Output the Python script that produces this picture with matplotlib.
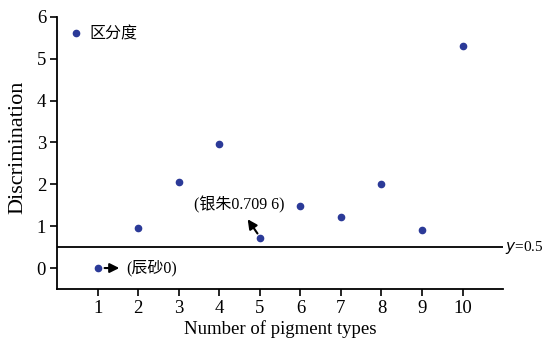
import matplotlib.pyplot as plt
from matplotlib.lines import Line2D

# pigment count vs discrimination
n_types = [1, 2, 3, 4, 5, 6, 7, 8, 9, 10]
discrim = [0.0, 0.96, 2.05, 2.97, 0.7096, 1.49, 1.22, 2.0, 0.91, 5.3]
threshold = 0.5

serif = ['Liberation Serif', 'Noto Sans CJK SC']
dot_color = '#2b3a98'

fig = plt.figure(figsize=(5.45, 3.44), dpi=100)
ax = fig.add_axes([0.105, 0.160, 0.818, 0.791])

ax.plot(n_types, discrim, 'o', color=dot_color, markersize=4.5, linestyle='none')
ax.axhline(threshold, color='black', lw=1.3)

ax.set_xlim(0, 11)
ax.set_ylim(-0.5, 6)
ax.set_xticks(n_types)
ax.set_yticks(range(0, 7))
for s in ['top', 'right']:
    ax.spines[s].set_visible(False)
for s in ['left', 'bottom']:
    ax.spines[s].set_linewidth(1.3)
ax.tick_params(direction='out', length=5, width=1.2, labelsize=13.5, pad=3)
for lbl in ax.get_xticklabels() + ax.get_yticklabels():
    lbl.set_family(serif)

ax.set_xlabel('Number of pigment types', family=serif, fontsize=13.5, labelpad=2)
ax.set_ylabel('Discrimination', family=serif, fontsize=16)
ax.yaxis.set_label_coords(-0.068, 0.52)

# labels and arrows
ax.annotate('', xy=(1.6, 0.0), xytext=(1.1, 0.0),
            arrowprops=dict(arrowstyle='-|>', color='black', lw=1.5, mutation_scale=14))
ax.text(1.7, 0.0, '(辰砂0)', family=serif, fontsize=11.5, va='center', ha='left')

ax.annotate('', xy=(4.66, 1.22), xytext=(4.98, 0.77),
            arrowprops=dict(arrowstyle='-|>', color='black', lw=1.5, mutation_scale=14))
ax.text(4.5, 1.52, '(银朱0.709 6)', family=serif, fontsize=11.5, va='center', ha='center')

ax.text(11.04, threshold, '$y$=0.5', family=serif, fontsize=11, va='center', ha='left',
        clip_on=False)

handle = Line2D([], [], marker='o', color=dot_color, markersize=4.5, linestyle='none')
leg = ax.legend([handle], ['区分度'], loc='upper left', bbox_to_anchor=(0.0, 1.015),
                frameon=False, handlelength=0.6, handletextpad=0.55, borderaxespad=0.45,
                prop={'family': serif, 'size': 11.5})

fig.savefig('out.png', dpi=100)
